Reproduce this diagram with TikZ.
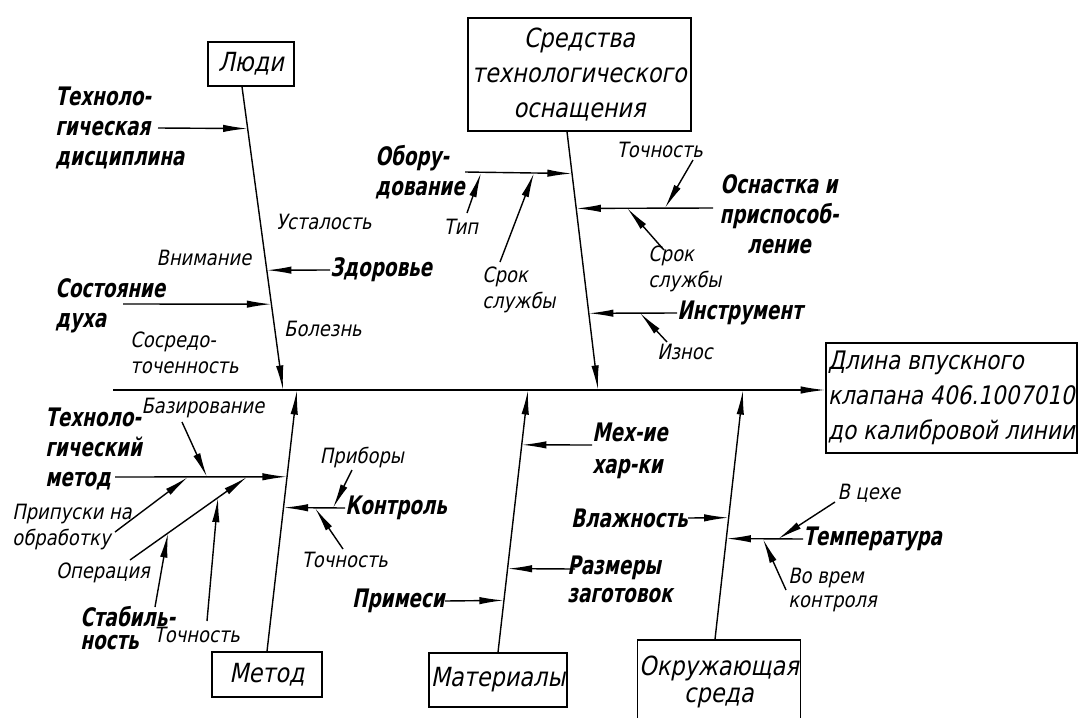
\documentclass[tikz,border=0pt]{standalone}
\usepackage{fontspec}
\setmainfont{DejaVu Sans}[FakeStretch=0.85, FakeSlant=0.2]
\newfontfamily\gostb{DejaVu Sans}[FakeStretch=0.72, FakeSlant=0.2]
\usetikzlibrary{arrows.meta,calc}

\tikzset{
  kasten/.style={draw, line width=0.8pt, font=\fontsize{15}{20}\selectfont, align=center, inner sep=1pt},
  ursache/.style={font=\gostb\bfseries\fontsize{14.5}{17}\selectfont, inner sep=0pt, align=left},
  klein/.style={font=\fontsize{12}{14.5}\selectfont, inner sep=0pt, align=left},
  pfeil/.style={-{Latex[length=14pt,width=4.2pt]}, line width=0.8pt},
}

\begin{document}
\begin{tikzpicture}[x=0.02cm, y=-0.02cm]
\useasboundingbox (0,0) rectangle (1081,717);

		%Kaesten
		\node[kasten, minimum width=1.72cm, minimum height=0.88cm] (ludi) at (251,64) {Люди};
		\node[kasten, minimum width=4.46cm, minimum height=2.26cm] (sredstva) at (579.5,74.5) {Средства\\технологического\\оснащения};
		\node[kasten, minimum width=2.2cm, minimum height=0.9cm] (metod) at (267,674.5) {Метод};
		\node[kasten, minimum width=2.76cm, minimum height=1.08cm] (mater) at (498,680) {Материалы};
		\node[kasten, minimum width=3.12cm, minimum height=1.68cm, font=\fontsize{15}{15.5}\selectfont] (okr) at (719,682) {Окружающая\\среда};
		\node[kasten, minimum width=5.02cm, minimum height=2.2cm, align=left, font=\fontsize{14.5}{20}\selectfont] (res) at (951.5,398) {Длина впускного\\клапана 406.1007010\\до калибровой линии};

		%Hauptlinie
		\coordinate (sp0) at (113,390);
		\draw[pfeil] (sp0) -- (sp0 -| res.west);

		%Graeten
		\coordinate (bL) at ($(ludi.south)+(-9,0)$);
		\coordinate (jL) at (283,390);
		\coordinate (bS) at ($(sredstva.south)+(-12.5,0)$);
		\coordinate (jS) at (598,390);
		\coordinate (jM) at (297,390);
		\coordinate (jMa) at (528,390);
		\coordinate (bO) at ($(okr.north)+(-4,0)$);
		\coordinate (jO) at (743,390);
		\draw[pfeil] (bL) -- (jL);
		\draw[pfeil] (bS) -- (jS);
		\draw[pfeil] (metod.north) -- (jM);
		\draw[pfeil] (mater.north) -- (jMa);
		\draw[pfeil] (bO) -- (jO);

		%Люди
		\coordinate (dT) at ($(bL)!0.138!(jL)$);
		\coordinate (dZ) at ($(bL)!0.605!(jL)$);
		\coordinate (dS) at ($(bL)!0.717!(jL)$);
		\node[ursache, anchor=west] (techdis) at (55,128) {Техноло-\\гическая\\дисциплина};
		\coordinate (tdS) at (158,128);
		\draw[pfeil] (tdS) -- (dT);
		\node[ursache, anchor=west] (zdor) at (330,270) {Здоровье};
		\draw[pfeil] (zdor.west) -- (dZ);
		\node[ursache, anchor=west] (sost) at (55,306) {Состояние\\духа};
		\coordinate (sdS) at (123,304);
		\draw[pfeil] (sdS) -- (dS);
		\node[klein] (ust) at (324,222) {Усталость};
		\node[klein] (vnim) at (204,258) {Внимание};
		\node[klein] (bolez) at (323,329) {Болезнь};
		\node[klein, anchor=west] (sosr) at (130,353) {Сосредо-\\точенность};

		%Средства
		\coordinate (dOb) at ($(bS)!0.162!(jS)$);
		\coordinate (dOs) at ($(bS)!0.297!(jS)$);
		\coordinate (dI) at ($(bS)!0.703!(jS)$);
		\node[ursache, anchor=west] (obor) at (375,172) {Обору-\\дование};
		\draw[pfeil] (obor.east) -- (dOb);
		\node[klein] (tip) at (461,227) {Тип};
		\coordinate (tipS) at (467,213);
		\coordinate (tipE) at (481,173);
		\draw[pfeil] (tipS) -- (tipE);
		\node[klein, anchor=west] (srok1) at (482,290) {Срок\\службы};
		\coordinate (sr1S) at (500,262);
		\coordinate (sr1E) at (534,173);
		\draw[pfeil] (sr1S) -- (sr1E);
		\node[ursache, align=center] (osn) at (779,214) {Оснастка и\\приспособ-\\ление};
		\coordinate (osS) at (713,208);
		\draw[pfeil] (osS) -- (dOs);
		\node[klein] (toch1) at (660,150) {Точность};
		\coordinate (to1S) at (693,160);
		\coordinate (to1E) at (665,208);
		\draw[pfeil] (to1S) -- (to1E);
		\node[klein, anchor=west] (srok2) at (648,269) {Срок\\службы};
		\coordinate (sr2S) at (664,250);
		\coordinate (sr2E) at (627,208);
		\draw[pfeil] (sr2S) -- (sr2E);
		\node[ursache, anchor=west] (instr) at (677,313) {Инструмент};
		\draw[pfeil] (instr.west) -- (dI);
		\node[klein] (iznos) at (685,352) {Износ};
		\coordinate (izS) at (667,342);
		\coordinate (izE) at (640,313);
		\draw[pfeil] (izS) -- (izE);

		%Метод
		\coordinate (dTm) at ($(metod.north)!0.668!(jM)$);
		\coordinate (dK) at ($(metod.north)!0.550!(jM)$);
		\node[ursache, anchor=west] (tehmet) at (45,449) {Техноло-\\гический\\метод};
		\coordinate (tmS) at (115,477);
		\draw[pfeil] (tmS) -- (dTm);
		\node[klein] (baz) at (203,408) {Базирование};
		\coordinate (bzS) at (182,422);
		\coordinate (bzE) at (207,477);
		\draw[pfeil] (bzS) -- (bzE);
		\node[klein, anchor=west] (pripusk) at (12,527) {Припуски на\\обработку};
		\coordinate (ppS) at (115,532);
		\coordinate (ppE) at (188,477);
		\draw[pfeil] (ppS) -- (ppE);
		\node[klein] (oper) at (103,573) {Операция};
		\coordinate (opS) at (130,560);
		\coordinate (opE) at (247,477);
		\draw[pfeil] (opS) -- (opE);
		\node[ursache, anchor=west, font=\gostb\bfseries\fontsize{14.5}{13.5}\selectfont] (stab) at (80,628) {Стабиль-\\ность};
		\coordinate (stS) at (155,607);
		\draw[pfeil] (stS) -- ($(opS)!0.325!(opE)$);
		\node[klein] (toch2) at (197,635) {Точность};
		\coordinate (t2S) at (207,621);
		\draw[pfeil] (t2S) -- ($(opS)!0.752!(opE)$);
		\node[ursache, anchor=west] (kontr) at (345,508) {Контроль};
		\draw[pfeil] (kontr.west) -- (dK);
		\node[klein] (pribory) at (362,457) {Приборы};
		\coordinate (prS) at (352,470);
		\coordinate (prE) at (333,508);
		\draw[pfeil] (prS) -- (prE);
		\node[klein] (toch3) at (345,560) {Точность};
		\coordinate (t3S) at (343,549);
		\coordinate (t3E) at (315,508);
		\draw[pfeil] (t3S) -- (t3E);

		%Материалы
		\coordinate (dMx) at ($(mater.north)!0.791!(jMa)$);
		\coordinate (dR) at ($(mater.north)!0.319!(jMa)$);
		\coordinate (dP) at ($(mater.north)!0.198!(jMa)$);
		\node[ursache, anchor=west, font=\gostb\bfseries\fontsize{14.5}{18.5}\selectfont] (mex) at (592,451) {Мех-ие\\хар-ки};
		\coordinate (mxS) at (592,445);
		\draw[pfeil] (mxS) -- (dMx);
		\node[ursache, anchor=west, font=\gostb\bfseries\fontsize{14.5}{16}\selectfont] (razm) at (567,579) {Размеры\\заготовок};
		\coordinate (rzS) at (575,569);
		\draw[pfeil] (rzS) -- (dR);
		\node[ursache, anchor=east] (prim) at (445,601) {Примеси};
		\draw[pfeil] (prim.east) -- (dP);

		%Окружающая среда
		\coordinate (dV) at ($(bO)!0.488!(jO)$);
		\coordinate (dTe) at ($(bO)!0.404!(jO)$);
		\node[ursache, anchor=east] (vlazh) at (688,518) {Влажность};
		\draw[pfeil] (vlazh.east) -- (dV);
		\node[ursache, anchor=west] (temp) at (803,539) {Температура};
		\draw[pfeil] (temp.west) -- (dTe);
		\node[klein] (vceh) at (869,493) {В цехе};
		\coordinate (vcS) at (835,502);
		\coordinate (vcE) at (778,539);
		\draw[pfeil] (vcS) -- (vcE);
		\node[klein, anchor=west, font=\fontsize{12}{14.2}\selectfont] (vovr) at (788,590) {Во врем\\контроля};
		\coordinate (vvS) at (786,590);
		\coordinate (vvE) at (763,539);
		\draw[pfeil] (vvS) -- (vvE);
\end{tikzpicture}
\end{document}
